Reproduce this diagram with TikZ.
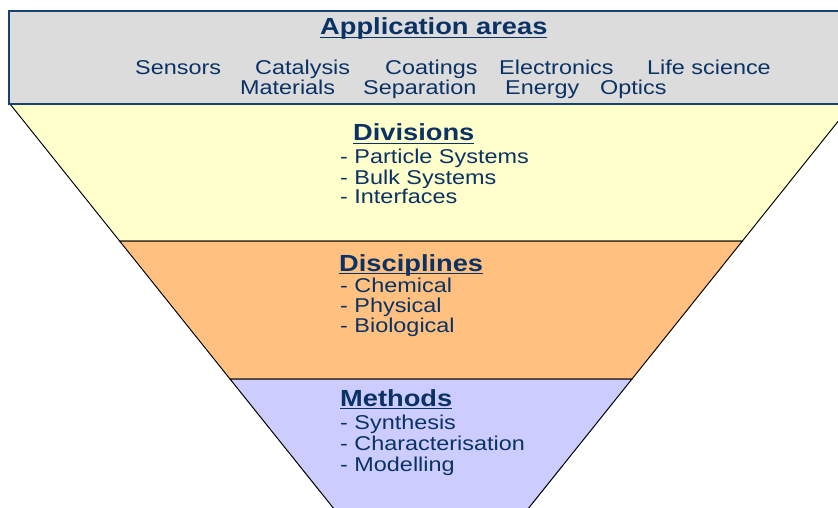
\documentclass[tikz,border=0pt]{standalone}
\usepackage{fontspec}
\setmainfont[FakeStretch=1.17]{Liberation Sans}
\definecolor{txt}{RGB}{10,50,100}
\definecolor{graybg}{RGB}{220,220,220}
\definecolor{rectblue}{RGB}{25,65,110}
\definecolor{yel}{RGB}{255,255,204}
\definecolor{ora}{RGB}{255,192,128}
\definecolor{pur}{RGB}{204,204,255}
\newcommand\ulx[1]{\setbox0\hbox{#1}\rlap{\rule[-3pt]{\wd0}{1.3pt}}\box0}
\tikzset{
  layer/.style={draw=black, line width=1pt, line join=miter},
  head/.style={anchor=base west, inner sep=0pt, text=txt, font=\fontsize{23.3}{25}\selectfont\bfseries},
  item/.style={anchor=base west, inner sep=0pt, text=txt, font=\fontsize{20}{21}\selectfont},
}
\begin{document}
\begin{tikzpicture}[x=1pt,y=-1pt]
\useasboundingbox (0,0) rectangle (838,508);
\begin{scope}
\clip (0,0) rectangle (838,508);
\fill[white] (0,0) rectangle (838,508);
\draw[layer, fill=yel] (10,104) -- (852,104) -- (742.4,241) -- (119.6,241) -- cycle;
\draw[layer, fill=ora] (119.6,241) -- (742.4,241) -- (632,379) -- (230,379) -- cycle;
\draw[layer, fill=pur] (230,379) -- (632,379) -- (431,630) -- cycle;
\draw[fill=graybg, draw=rectblue, line width=1.6pt] (9,11) rectangle (860,104);
\end{scope}
% application areas
\node[head] (apptitle) at (320,35) {\ulx{Application areas}};
\node[item] (a1) at (135,75) {Sensors};
\node[item] (a2) at (255,75) {Catalysis};
\node[item] (a3) at (385,75) {Coatings};
\node[item] (a4) at (499,75) {Electronics};
\node[item] (a5) at (647,75) {Life science};
\node[item] (b1) at (240,95) {Materials};
\node[item] (b2) at (363,95) {Separation};
\node[item] (b3) at (505,95) {Energy};
\node[item] (b4) at (600,95) {Optics};
% divisions
\node[head] (divt) at (353,141) {\ulx{Divisions}};
\node[item] (d1) at (340,164) {- Particle Systems};
\node[item] (d2) at (340,184) {- Bulk Systems};
\node[item] (d3) at (340,203) {- Interfaces};
% disciplines
\node[head] (dist) at (339,271) {\ulx{Disciplines}};
\node[item] (s1) at (340,292) {- Chemical};
\node[item] (s2) at (340,312) {- Physical};
\node[item] (s3) at (340,332) {- Biological};
% methods
\node[head] (mett) at (340,406) {\ulx{Methods}};
\node[item] (m1) at (340,429) {- Synthesis};
\node[item] (m2) at (340,450) {- Characterisation};
\node[item] (m3) at (340,471) {- Modelling};
\end{tikzpicture}
\end{document}
